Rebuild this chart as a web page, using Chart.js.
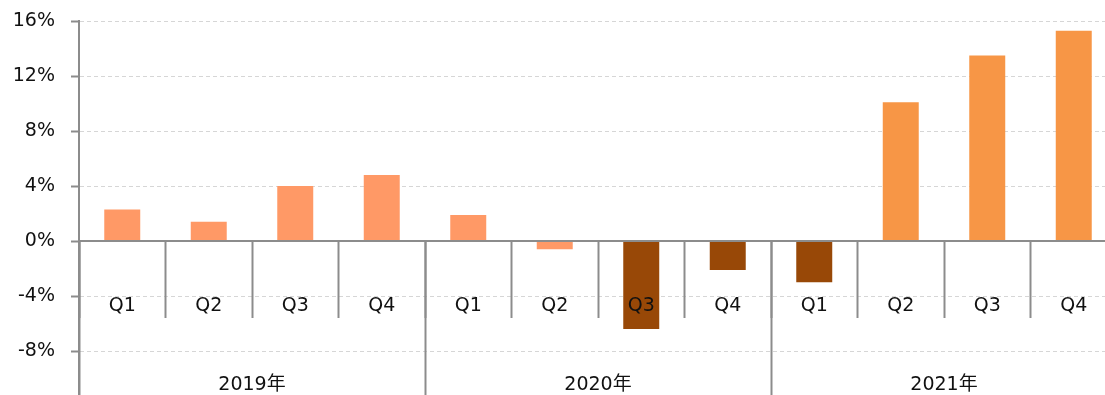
<!DOCTYPE html>
<html lang="ja">
<head>
    <meta charset="UTF-8">
    <title>四半期 前年同期比</title>
    <script src="https://cdn.jsdelivr.net/npm/chart.js"></script>
    <style>
        html, body {
            margin: 0;
            padding: 0;
            background: #fff;
            overflow: hidden;
        }
        .chart-box {
            position: absolute;
            left: 0;
            top: 0;
            width: 1118px;
            height: 395px;
        }
    </style>
</head>
<body>
    <div class="chart-box">
        <canvas id="growthChart"></canvas>
    </div>

    <script>
        // data
        const quarters = ['Q1', 'Q2', 'Q3', 'Q4', 'Q1', 'Q2', 'Q3', 'Q4', 'Q1', 'Q2', 'Q3', 'Q4'];
        const years = ['2019年', '2020年', '2021年'];
        const growth = [2.3, 1.4, 4.0, 4.8, 1.9, -0.6, -6.4, -2.1, -3.0, 10.1, 13.5, 15.3];
        const yTicks = [-8, -4, 0, 4, 8, 12, 16];

        const barColors = [
            '#ff9966', '#ff9966', '#ff9966', '#ff9966', '#ff9966', '#ff9966',
            '#984807', '#984807', '#984807',
            '#f79646', '#f79646', '#f79646'
        ];

        const axisGray = '#8c8c8c';
        Chart.defaults.font.family = "'DejaVu Sans', 'Noto Sans CJK JP', sans-serif";
        Chart.defaults.font.size = 19;
        Chart.defaults.color = '#111';

        new Chart(document.getElementById('growthChart'), {
            type: 'bar',
            data: {
                labels: quarters,
                datasets: [{
                    data: growth,
                    backgroundColor: barColors,
                    barPercentage: 0.416,
                    categoryPercentage: 1
                }]
            },
            options: {
                responsive: true,
                maintainAspectRatio: false,
                animation: false,
                layout: { padding: { top: 21, right: 1, bottom: 0, left: 0 } },
                plugins: {
                    legend: { display: false },
                    tooltip: { enabled: false }
                },
                scales: {
                    y: {
                        min: -11.2,
                        max: 16,
                        afterBuildTicks: scale => {
                            scale.ticks = yTicks.map(v => ({ value: v }));
                        },
                        afterFit: scale => {
                            scale.width = 79;
                            scale.paddingTop = 0;
                            scale.paddingBottom = 0;
                        },
                        ticks: {
                            padding: 16,
                            callback: v => v + '%'
                        },
                        grid: {
                            color: ctx => (ctx.tick && ctx.tick.value === 0) ? 'rgba(0,0,0,0)' : '#d6d6d6',
                            lineWidth: 1,
                            tickColor: axisGray,
                            tickLength: 8,
                            tickWidth: 2
                        },
                        border: { color: axisGray, width: 2, dash: [4, 3] }
                    },
                    // quarter labels sit on the 0% line, drawn over the bars
                    x: {
                        position: { y: 0 },
                        offset: true,
                        ticks: {
                            padding: -22,
                            maxRotation: 0,
                            autoSkip: false,
                            z: 2
                        },
                        grid: {
                            offset: true,
                            drawOnChartArea: false,
                            tickLength: 76,
                            tickWidth: 2,
                            tickColor: axisGray,
                            z: 1
                        },
                        border: { color: axisGray, width: 2, z: 1 }
                    },
                    x2: {
                        type: 'category',
                        labels: years,
                        position: { y: 0 },
                        offset: true,
                        ticks: {
                            padding: -27,
                            maxRotation: 0,
                            autoSkip: false,
                            z: 2
                        },
                        grid: {
                            offset: true,
                            drawOnChartArea: false,
                            tickLength: 160,
                            tickWidth: 2,
                            tickColor: axisGray,
                            z: 1
                        },
                        border: { display: false }
                    }
                }
            }
        });
    </script>
</body>
</html>
